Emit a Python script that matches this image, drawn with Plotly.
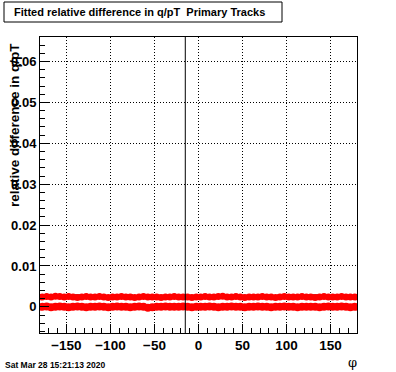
import plotly.graph_objects as go

phi = [-177.5 + 5 * i for i in range(72)]

red_upper = [0.0024, 0.0025, 0.0024, 0.0026, 0.0025, 0.0024, 0.0025, 0.0024, 0.0023, 0.0024,
             0.0025, 0.0024, 0.0024, 0.0025, 0.0024, 0.0023, 0.0024, 0.0024, 0.0025, 0.0024,
             0.0024, 0.0023, 0.0024, 0.0025, 0.0024, 0.0024, 0.0024, 0.0023, 0.0024, 0.0024,
             0.0025, 0.0024, 0.0024, 0.0024, 0.0023, 0.0024, 0.0024, 0.0025, 0.0024, 0.0024,
             0.0025, 0.0026, 0.0024, 0.0024, 0.0025, 0.0024, 0.0023, 0.0024, 0.0024, 0.0024,
             0.0025, 0.0024, 0.0024, 0.0023, 0.0024, 0.0025, 0.0024, 0.0024, 0.0024, 0.0025,
             0.0024, 0.0024, 0.0023, 0.0024, 0.0025, 0.0024, 0.0024, 0.0024, 0.0025, 0.0024,
             0.0024, 0.0024]

red_lower = [0.0000, 0.0001, -0.0001, 0.0000, 0.0001, 0.0000, -0.0001, 0.0000, 0.0001, 0.0000,
             -0.0001, 0.0000, 0.0000, 0.0001, 0.0000, -0.0001, 0.0000, 0.0001, 0.0000, 0.0000,
             -0.0001, 0.0000, 0.0001, 0.0000, -0.0002, -0.0001, 0.0000, 0.0000, 0.0001, 0.0000,
             0.0000, 0.0000, 0.0001, 0.0000, -0.0001, 0.0000, 0.0000, 0.0000, 0.0001, 0.0000,
             -0.0001, 0.0000, 0.0000, 0.0001, 0.0000, 0.0000, -0.0001, 0.0000, 0.0000, 0.0001,
             0.0000, 0.0000, -0.0001, 0.0000, 0.0000, 0.0001, 0.0000, 0.0000, -0.0001, 0.0000,
             0.0000, 0.0000, 0.0000, -0.0001, 0.0000, 0.0001, 0.0000, 0.0000, 0.0001, 0.0000,
             -0.0001, 0.0000]

black_phi = [-167.5, -132.5, -92.5, -82.5, -42.5, -12.5, 22.5, 57.5, 97.5, 132.5, 162.5]
black_upper = [0.0028, 0.0028, 0.0027, 0.0028, 0.0027, 0.0027, 0.0027, 0.0027, 0.0028, 0.0028, 0.0027]
black_lower_phi = [-172.5, -147.5, -122.5, -97.5, -67.5, -37.5, -17.5, 2.5, 37.5, 67.5, 107.5, 142.5, 172.5]
black_lower = [-0.0004, -0.0003, -0.0004, -0.0003, -0.0004, -0.0003, 0.0004, -0.0003, -0.0003, -0.0004, -0.0003, -0.0004, -0.0003]

x_ticks = [-150, -100, -50, 0, 50, 100, 150]
y_ticks = [0, 0.01, 0.02, 0.03, 0.04, 0.05, 0.06]
y_tick_labels = ["0", "0.01", "0.02", "0.03", "0.04", "0.05", "0.06"]
vline_phi = -15

W, H = 396, 372
L, R, T, B = 40, 39, 37, 39
pw, ph = W - L - R, H - T - B

def px(x):
    return (x - L) / pw

def py(y):
    return (H - B - y) / ph

font = "Liberation Sans, Arial, Helvetica, sans-serif"

fig = go.Figure()
fig.add_trace(go.Scatter(x=black_phi, y=black_upper, mode="markers",
                         marker=dict(symbol="line-ew", size=10, line=dict(color="black", width=2)),
                         showlegend=False))
fig.add_trace(go.Scatter(x=black_lower_phi, y=black_lower, mode="markers",
                         marker=dict(symbol="line-ew", size=10, line=dict(color="black", width=2)),
                         showlegend=False))
fig.add_trace(go.Scatter(x=phi, y=red_upper, mode="markers",
                         marker=dict(symbol="circle", size=7, color="#ff0000"),
                         showlegend=False))
fig.add_trace(go.Scatter(x=phi, y=red_lower, mode="markers",
                         marker=dict(symbol="circle", size=8, color="#ff0000"),
                         showlegend=False))

fig.add_shape(type="line", xref="x", yref="paper", x0=vline_phi, x1=vline_phi, y0=0, y1=1,
              line=dict(color="black", width=1))

# title box
fig.add_shape(type="rect", xref="paper", yref="paper",
              x0=px(4), x1=px(282), y0=py(22), y1=py(2),
              line=dict(color="black", width=1), fillcolor="white")
fig.add_annotation(xref="paper", yref="paper", x=px(139), y=py(12),
                   text="<b>Fitted relative difference in q/pT  Primary Tracks</b>",
                   showarrow=False, font=dict(family=font, size=11, color="black"),
                   xanchor="center", yanchor="middle")
fig.add_annotation(xref="paper", yref="paper", x=px(3), y=py(365),
                   text="<b>Sat Mar 28 15:21:13 2020</b>", showarrow=False,
                   font=dict(family=font, size=8.5, color="black"),
                   xanchor="left", yanchor="middle")
fig.add_annotation(xref="paper", yref="paper", x=px(352), y=py(362),
                   text="φ", showarrow=False,
                   font=dict(family="DejaVu Serif, serif", size=13, color="black"),
                   xanchor="center", yanchor="middle")
fig.add_annotation(xref="paper", yref="paper", x=px(15), y=py(125),
                   text="<b>relative difference in q/pT</b>", showarrow=False, textangle=-90,
                   font=dict(family=font, size=13.5, color="black"),
                   xanchor="center", yanchor="middle")

fig.update_layout(
    width=W, height=H,
    margin=dict(l=L, r=R, t=T, b=B),
    paper_bgcolor="white", plot_bgcolor="white",
    font=dict(family=font, color="black"),
    xaxis=dict(range=[-180, 180], tickvals=x_ticks,
               ticktext=["<b>%s</b>" % ("\u2212%d" % -v if v < 0 else str(v)) for v in x_ticks],
               tickfont=dict(size=13.5), ticks="inside", ticklen=9, tickcolor="black",
               minor=dict(ticks="inside", ticklen=5, dtick=10, tickcolor="black", showgrid=False),
               showgrid=True, gridcolor="black", griddash="1px,2px", gridwidth=1,
               showline=True, linecolor="black", mirror=True, zeroline=False),
    yaxis=dict(range=[-0.0064, 0.066], tickvals=y_ticks,
               ticktext=["<b>%s</b>" % t for t in y_tick_labels],
               tickfont=dict(size=13), ticks="inside", ticklen=9, tickcolor="black",
               minor=dict(ticks="inside", ticklen=5, dtick=0.002, tickcolor="black", showgrid=False),
               showgrid=True, gridcolor="black", griddash="1px,2px", gridwidth=1,
               showline=True, linecolor="black", mirror=True, zeroline=False),
)

fig.write_html("out.html", config={"displayModeBar": False},
               post_script="document.body.style.margin='0';document.body.style.padding='0';")
